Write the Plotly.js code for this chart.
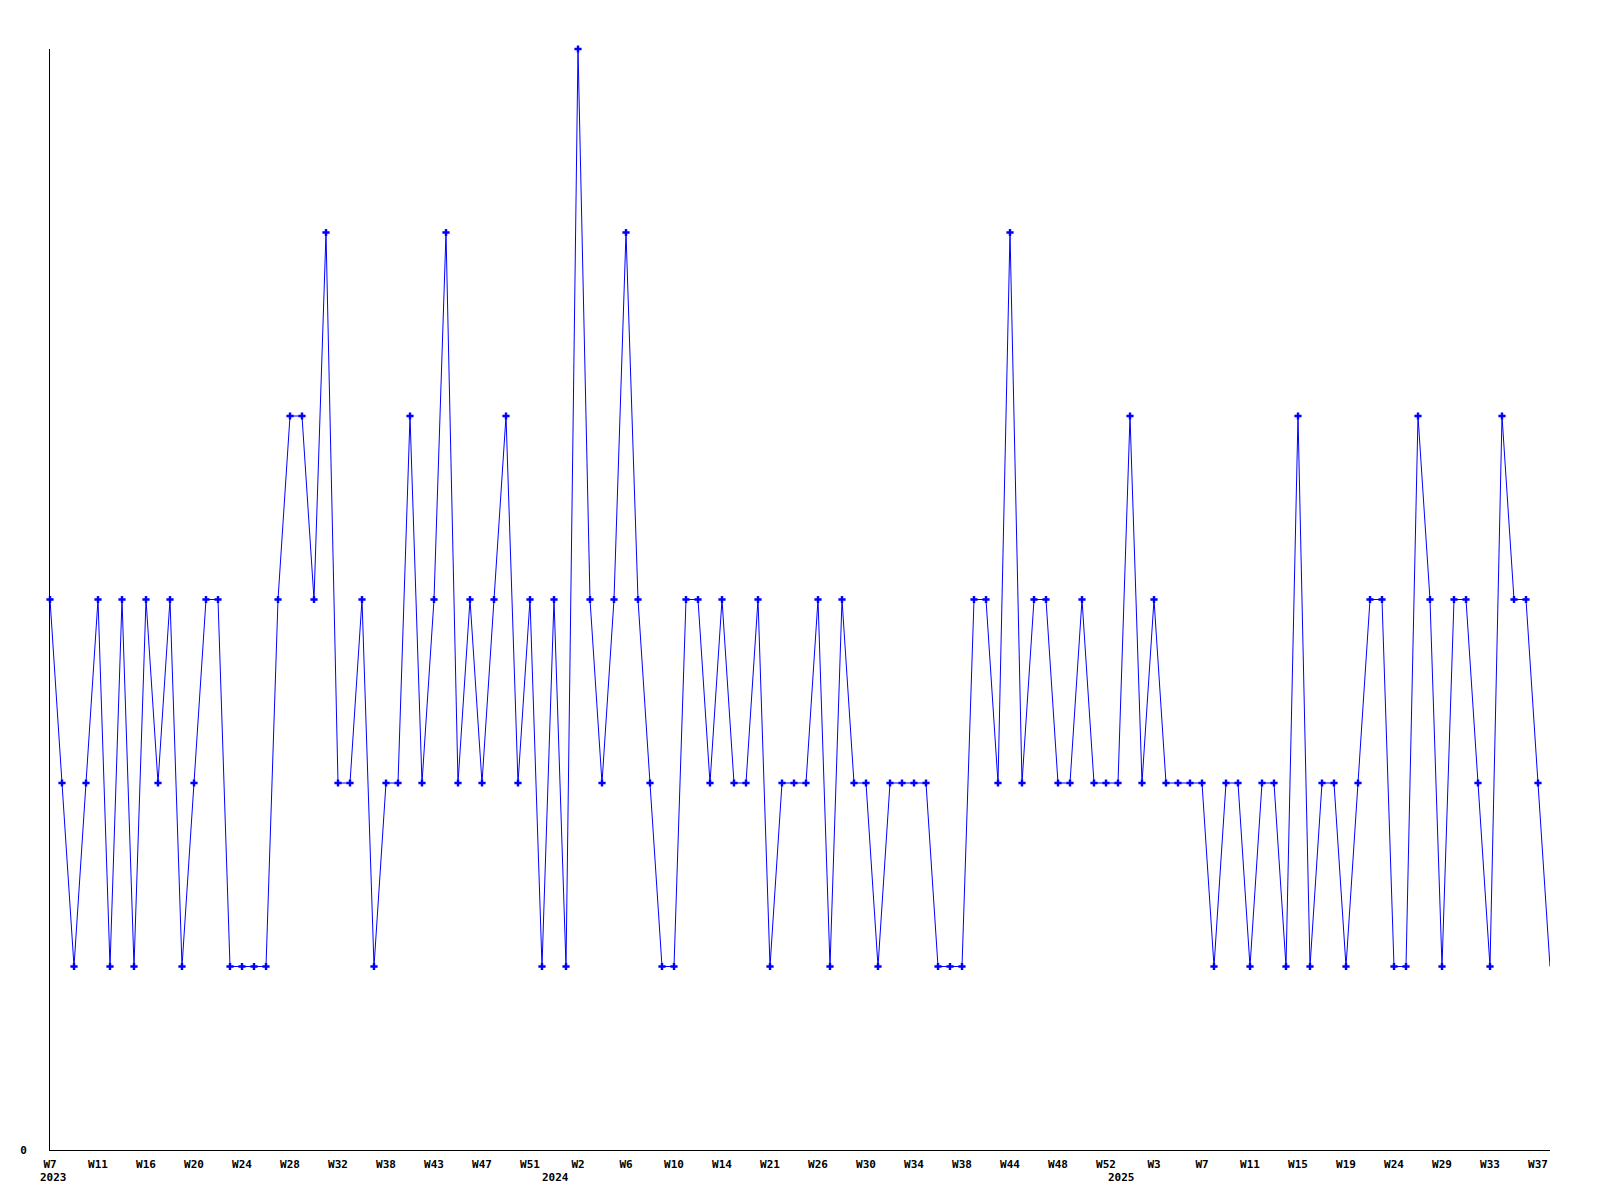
<!DOCTYPE html>
<html>
<head>
<meta charset="utf-8">
<script src="https://cdn.plot.ly/plotly-3.0.1.min.js"></script>
<style>
  html, body { margin: 0; padding: 0; background: #ffffff; }
  #chart { width: 1600px; height: 1200px; }
</style>
</head>
<body>
<div id="chart"></div>
<script>
// Weekly values, one per plotted week (126 points, evenly spaced)
const values = [
  3,2,1,2,3,1,3,1,3,2,
  3,1,2,3,3,1,1,1,1,3,
  4,4,3,5,2,2,3,1,2,2,
  4,2,3,5,2,3,2,3,4,2,
  3,1,3,1,6,3,2,3,5,3,
  2,1,1,3,3,2,3,2,2,3,
  1,2,2,2,3,1,3,2,2,1,
  2,2,2,2,1,1,1,3,3,2,
  5,2,3,3,2,2,3,2,2,2,
  4,2,3,2,2,2,2,1,2,2,
  1,2,2,1,4,1,2,2,1,2,
  3,3,1,1,4,3,1,3,3,2,
  1,4,3,3,2,1
];

// Week tick labels, one every 4th point
const weekTicks = [
  'W7','W11','W16','W20','W24','W28','W32','W38','W43','W47','W51',
  'W2','W6','W10','W14','W21','W26','W30','W34','W38','W44','W48','W52',
  'W3','W7','W11','W15','W19','W24','W29','W33','W37'
];
const tickStep = 4;

// Year labels and the point index where each year begins
const yearLabels = ['2023', '2024', '2025'];
const yearStartIndex = [0, 42, 89];

const xIdx = values.map((_, i) => i);
const tickVals = weekTicks.map((_, i) => i * tickStep);

const font = { family: '"DejaVu Sans Mono", "Liberation Mono", monospace', size: 11, color: '#000000' };

const lineTrace = {
  x: xIdx,
  y: values,
  type: 'scatter',
  mode: 'lines',
  line: { color: '#0000ff', width: 1 },
  hoverinfo: 'skip',
  cliponaxis: false,
  showlegend: false
};

const markerTrace = {
  x: xIdx.slice(0, -1),
  y: values.slice(0, -1),
  type: 'scatter',
  mode: 'markers',
  marker: { color: '#0000ff', symbol: 'cross', size: 6, line: { width: 0 } },
  cliponaxis: false,
  showlegend: false
};

const yearOffset = [0.25, 0.15, 0.3];
const annotations = yearLabels.map((t, i) => ({
  text: '<b>' + t + '</b>',
  x: yearStartIndex[i] + yearOffset[i],
  xref: 'x',
  y: 0,
  yref: 'paper',
  yanchor: 'middle',
  xanchor: 'center',
  yshift: -27,
  showarrow: false,
  font: font
}));

const layout = {
  width: 1600,
  height: 1200,
  margin: { l: 50, r: 50, t: 49, b: 50, pad: 0 },
  paper_bgcolor: '#ffffff',
  plot_bgcolor: '#ffffff',
  showlegend: false,
  font: font,
  xaxis: {
    range: [0, values.length - 1],
    showgrid: false,
    zeroline: false,
    showline: true,
    linecolor: '#000000',
    linewidth: 1,
    ticks: '',
    tickmode: 'array',
    tickvals: tickVals,
    ticktext: weekTicks.map(t => '<b>' + t + '</b>'),
    tickfont: font,
    ticklabelstandoff: 4,
    fixedrange: true
  },
  yaxis: {
    range: [0, 6],
    showgrid: false,
    zeroline: false,
    showline: true,
    linecolor: '#000000',
    linewidth: 1,
    ticks: '',
    tickmode: 'array',
    tickvals: [0],
    ticktext: ['<b>0</b>'],
    tickfont: font,
    ticklabelstandoff: 20,
    fixedrange: true
  },
  annotations: annotations
};

Plotly.newPlot('chart', [lineTrace, markerTrace], layout, { staticPlot: true, displayModeBar: false });
</script>
</body>
</html>
